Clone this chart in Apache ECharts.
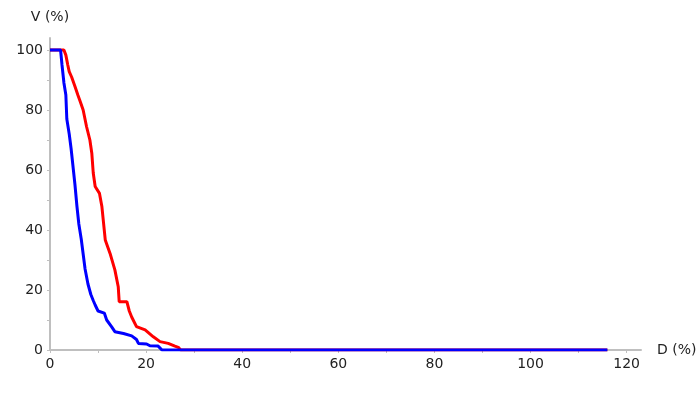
<!DOCTYPE html>
<html>
<head>
<meta charset="utf-8">
<script src="https://cdn.jsdelivr.net/npm/echarts@6/dist/echarts.min.js"></script>
<style>html,body{margin:0;padding:0;background:#fff}#c{width:700px;height:400px}</style>
</head>
<body>
<div id="c"></div>
<script>
var redDose   = [0, 2.9, 3.3, 3.7, 4.0, 4.5, 5.2, 5.8, 6.25, 6.9, 7.6, 8.3, 8.7, 9.0, 9.4, 10.3, 10.8, 11.5, 12.5, 13.5, 14.2, 14.4, 16.0, 16.5, 17.0, 18.0, 19.8, 21.5, 22.9, 24.6, 26.0, 26.7, 27.2, 116];
var redVolume = [100, 100, 98.3, 95, 92.8, 91, 87.8, 85, 83, 80, 74.5, 70, 65.6, 59, 54.5, 52.2, 47.8, 36.7, 32.2, 26.7, 21.1, 16.1, 16.1, 13, 11, 7.8, 6.7, 4.4, 2.8, 2.2, 1.3, 0.9, 0, 0];
var blueDose   = [0, 2.2, 2.5, 2.9, 3.3, 3.5, 4.0, 4.4, 4.8, 5.2, 5.6, 6.0, 6.5, 6.9, 7.3, 7.9, 8.5, 9.0, 9.4, 10.0, 10.4, 11.3, 11.8, 12.8, 13.5, 15.3, 15.6, 17.0, 18.0, 18.4, 20.1, 20.8, 22.5, 23.3, 116];
var blueVolume = [100, 100, 95, 89, 85, 77, 72, 67, 61, 55, 48, 42, 37, 32, 27, 22, 18.5, 16.5, 15, 13, 12.5, 12.3, 10, 7.8, 6.1, 5.5, 5, 4.7, 3.5, 2.2, 2, 1.4, 1.3, 0, 0];
var xTicks  = [0, 10, 20, 30, 40, 50, 60, 70, 80, 90, 100, 110, 120];
var xLabels = [0, 20, 40, 60, 80, 100, 120];
var yTicks  = [0, 10, 20, 30, 40, 50, 60, 70, 80, 90, 100];
var yLabels = [0, 20, 40, 60, 80, 100];

function pairs(xs, ys) { return xs.map(function (x, i) { return [x, ys[i]]; }); }

var font = 'DejaVu Sans';
var axisColor = '#bfbfbf';
var chart = echarts.init(document.getElementById('c'), null, {renderer: 'canvas'});
chart.setOption({
  animation: false,
  grid: {left: 50, right: 59, top: 38, bottom: 50, containLabel: false},
  xAxis: {
    type: 'value', min: 0, max: 123,
    name: 'D (%)', nameLocation: 'end', nameGap: 16,
    nameTextStyle: {fontFamily: font, fontSize: 14, color: '#222'},
    axisLine: {show: true, onZero: false, lineStyle: {color: axisColor, width: 2}},
    axisTick: {show: true, length: 3, customValues: xTicks, lineStyle: {color: axisColor, width: 1}},
    axisLabel: {customValues: xLabels, fontFamily: font, fontSize: 14, color: '#222', margin: 7},
    splitLine: {show: false}
  },
  yAxis: {
    type: 'value', min: 0, max: 104,
    name: 'V (%)', nameLocation: 'end', nameGap: 14,
    nameTextStyle: {fontFamily: font, fontSize: 14, color: '#222'},
    axisLine: {show: true, lineStyle: {color: axisColor, width: 2}},
    axisTick: {show: true, length: 3, customValues: yTicks, lineStyle: {color: axisColor, width: 1}},
    axisLabel: {customValues: yLabels, fontFamily: font, fontSize: 14, color: '#222', margin: 7},
    splitLine: {show: false}
  },
  series: [
    {type: 'line', data: pairs(redDose, redVolume), showSymbol: false, symbol: 'none',
     lineStyle: {color: '#ff0000', width: 3}, itemStyle: {color: '#ff0000'}},
    {type: 'line', data: pairs(blueDose, blueVolume), showSymbol: false, symbol: 'none',
     lineStyle: {color: '#0000ff', width: 3}, itemStyle: {color: '#0000ff'}}
  ]
});
</script>
</body>
</html>
